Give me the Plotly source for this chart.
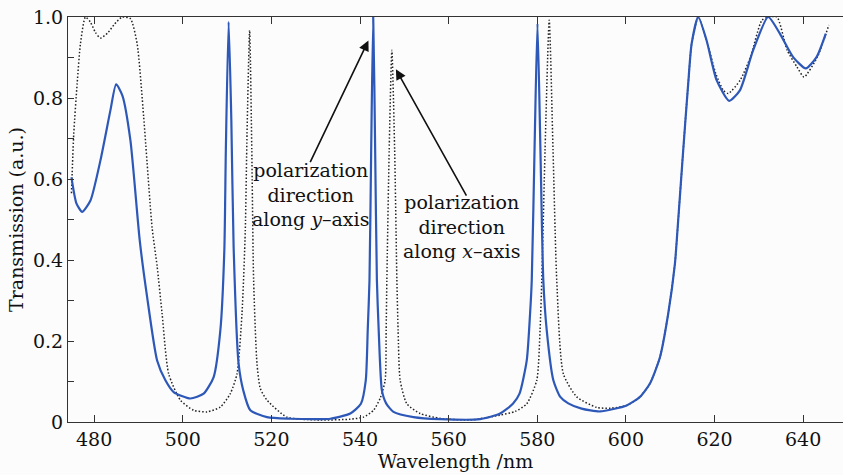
import plotly.graph_objects as go

# Wavelength (nm) and transmission
wl_y = [474.88, 476.0, 477.29, 479.17, 481.42, 483.68, 484.96, 486.38, 488.18, 490.28,
        491.95, 494.21, 496.08, 497.95, 501.71, 504.71, 506.97, 508.48, 509.38, 509.72,
        510.35, 510.96, 511.48, 512.6, 513.66, 515.24, 519.01, 524.26, 531.03, 533.3,
        537.8, 540.2, 541.3, 541.74, 542.14, 542.52, 542.98, 543.42, 543.81, 544.22,
        544.94, 545.9, 547.55, 552.06, 558.1, 567.1, 571.61, 574.5, 576.0, 577.63,
        578.38, 578.76, 579.4, 580.05, 580.7, 581.37, 582.14, 583.63, 585.2, 587.0,
        590.0, 594.15, 600.18, 603.18, 605.43, 607.69, 609.56, 611.07, 611.59, 612.94,
        614.07, 614.84, 616.33, 618.22, 620.48, 623.32, 625.73, 628.73, 632.11, 634.75,
        637.75, 640.61, 643.03, 645.12]
tr_y = [0.604, 0.54, 0.519, 0.547, 0.646, 0.77, 0.834, 0.806, 0.696, 0.449,
        0.309, 0.152, 0.103, 0.074, 0.058, 0.07, 0.111, 0.226, 0.424, 0.671,
        0.988, 0.745, 0.432, 0.144, 0.078, 0.029, 0.012, 0.008, 0.007, 0.008,
        0.021, 0.045, 0.103, 0.226, 0.35, 0.671, 1.0, 0.671, 0.35, 0.226,
        0.078, 0.046, 0.025, 0.012, 0.007, 0.007, 0.021, 0.045, 0.07, 0.152,
        0.268, 0.35, 0.68, 0.984, 0.68, 0.35, 0.226, 0.103, 0.062, 0.046,
        0.033, 0.026, 0.041, 0.062, 0.095, 0.16, 0.268, 0.391, 0.465, 0.671,
        0.836, 0.934, 1.0, 0.942, 0.844, 0.793, 0.819, 0.918, 1.0, 0.959,
        0.901, 0.873, 0.901, 0.959]

wl_x = [474.88, 475.4, 476.17, 476.91, 478.04, 479.17, 480.29, 481.42, 483.0, 484.58,
        486.31, 488.18, 489.7, 491.18, 493.08, 494.21, 495.33, 496.82, 499.46, 502.46,
        505.48, 508.48, 510.73, 512.24, 513.37, 514.11, 514.5, 515.09, 515.58, 515.99,
        516.75, 517.5, 519.01, 523.52, 531.03, 537.8, 540.8, 543.05, 544.56, 545.68,
        545.9, 546.06, 546.58, 547.19, 547.82, 548.32, 548.6, 549.06, 550.57, 553.57,
        558.08, 564.9, 571.6, 575.0, 577.63, 579.89, 580.63, 581.02, 581.76, 582.7,
        583.56, 584.4, 585.89, 588.91, 593.42, 596.5, 600.18, 603.18, 605.43, 607.69,
        609.56, 611.07, 611.59, 612.94, 614.07, 614.84, 616.33, 618.22, 620.3, 622.0,
        623.1, 625.8, 628.1, 630.7, 632.2, 634.1, 636.4, 638.6, 640.2, 643.2, 645.8]
tr_x = [0.565, 0.712, 0.836, 0.934, 1.0, 0.987, 0.962, 0.948, 0.96, 0.982,
        1.0, 0.996, 0.934, 0.753, 0.48, 0.385, 0.268, 0.119, 0.054, 0.029,
        0.025, 0.037, 0.07, 0.119, 0.268, 0.473, 0.712, 0.967, 0.671, 0.35,
        0.144, 0.083, 0.054, 0.012, 0.005, 0.007, 0.012, 0.029, 0.059, 0.103,
        0.226, 0.35, 0.671, 0.918, 0.671, 0.35, 0.226, 0.103, 0.045, 0.021,
        0.009, 0.005, 0.017, 0.026, 0.045, 0.103, 0.226, 0.35, 0.671, 0.992,
        0.671, 0.35, 0.119, 0.062, 0.036, 0.034, 0.041, 0.062, 0.095, 0.16,
        0.268, 0.391, 0.465, 0.671, 0.836, 0.934, 1.0, 0.942, 0.86, 0.819,
        0.811, 0.844, 0.901, 0.992, 1.0, 1.0, 0.918, 0.877, 0.852, 0.901, 0.98]

x_ticks = [480, 500, 520, 540, 560, 580, 600, 620, 640]
y_ticks = [0, 0.2, 0.4, 0.6, 0.8, 1.0]
y_tick_labels = ["0", "0.2", "0.4", "0.6", "0.8", "1.0"]

FONT = "DejaVu Serif"
BG = "#fcfcfc"

fig = go.Figure()
fig.add_trace(go.Scatter(x=wl_x, y=tr_x, mode="lines", name="x",
                         line=dict(color="#222222", width=1.5, dash="1.5px,2px", shape="spline", smoothing=0.6)))
fig.add_trace(go.Scatter(x=wl_y, y=tr_y, mode="lines", name="y",
                         line=dict(color="#2d58b8", width=2.2, shape="spline", smoothing=0.6)))

ann = []
ann.append(dict(x=541.9, y=0.942, ax=528.6, ay=0.638, xref="x", yref="y", axref="x", ayref="y",
                text="", showarrow=True, arrowhead=2, arrowsize=1.3, arrowwidth=1.6, arrowcolor="#111111"))
ann.append(dict(x=548.1, y=0.871, ax=564.2, ay=0.555, xref="x", yref="y", axref="x", ayref="y",
                text="", showarrow=True, arrowhead=2, arrowsize=1.3, arrowwidth=1.6, arrowcolor="#111111"))
ann.append(dict(x=528.8, y=0.562, xref="x", yref="y", showarrow=False,
                text="polarization<br>direction<br>along <i>y</i>\u2013axis",
                font=dict(family=FONT, size=19, color="#111111"), align="center"))
ann.append(dict(x=562.8, y=0.482, xref="x", yref="y", showarrow=False,
                text="polarization<br>direction<br>along <i>x</i>\u2013axis",
                font=dict(family=FONT, size=19, color="#111111"), align="center"))

fig.update_layout(
    width=843, height=475,
    margin=dict(l=68, r=0, t=17, b=53, autoexpand=False),
    paper_bgcolor=BG, plot_bgcolor=BG,
    showlegend=False,
    font=dict(family=FONT, size=18, color="#111111"),
    annotations=ann,
)
fig.update_xaxes(range=[474.1, 649.0], tickvals=x_ticks, ticks="inside", ticklen=7,
                 tickcolor="#333333", showline=True, linecolor="#333333", linewidth=1,
                 mirror="ticks", showgrid=False, zeroline=False, automargin=False,
                 tickfont=dict(family=FONT, size=19),
                 title=dict(text="Wavelength /nm", font=dict(family=FONT, size=19), standoff=0))
fig.update_yaxes(range=[0, 1.0], tickvals=y_ticks, ticktext=y_tick_labels, ticks="inside", ticklen=6,
                 tickcolor="#333333", showline=True, linecolor="#333333", linewidth=1,
                 showgrid=False, zeroline=False, automargin=False,
                 minor=dict(dtick=0.1, ticks="inside", ticklen=6, tickcolor="#333333", showgrid=False),
                 tickfont=dict(family=FONT, size=19),
                 title=dict(text="Transmission (a.u.)", font=dict(family=FONT, size=19), standoff=4))

fig.write_html("out.html", config={"displayModeBar": False},
               post_script="document.body.style.margin='0';")
